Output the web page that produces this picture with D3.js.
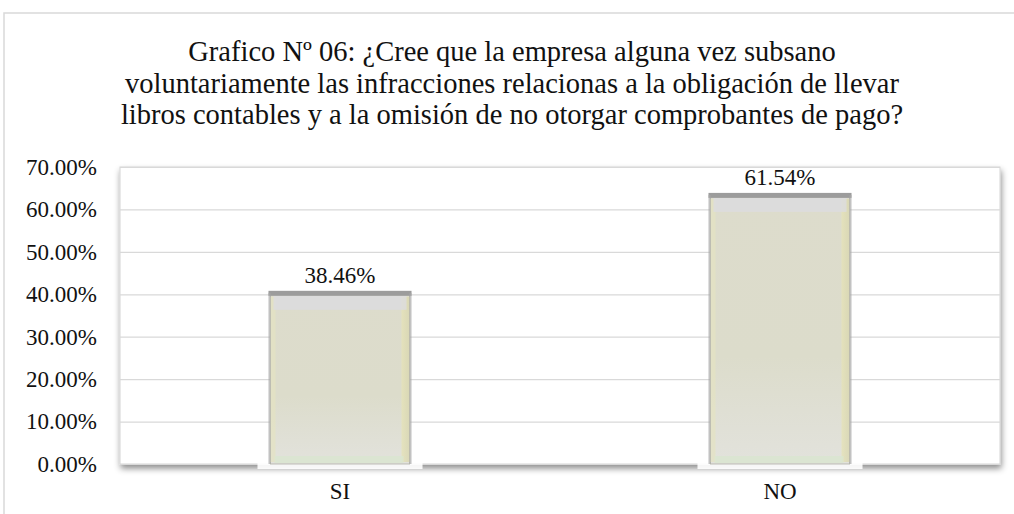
<!DOCTYPE html>
<html>
<head>
<meta charset="utf-8">
<script src="https://cdn.jsdelivr.net/npm/d3@7"></script>
<style>
  body { margin: 0; background: #fff; }
  svg { display: block; font-family: "Liberation Serif", "Times New Roman", serif; }
</style>
</head>
<body>
<svg id="chart" width="1014" height="514"></svg>
<script>
const categories = ["SI", "NO"];
const values = [38.46, 61.54];
const yTicks = [0, 10, 20, 30, 40, 50, 60, 70];
const titleLines = [
  "Grafico Nº 06: ¿Cree que la empresa alguna vez subsano",
  "voluntariamente las infracciones relacionas a la obligación de llevar",
  "libros contables y a la omisión de no otorgar comprobantes de pago?"
];

const serif = "Liberation Serif, Times New Roman, serif";
const svg = d3.select("#chart");
const plot = {left: 120, right: 1000, top: 167, bottom: 464};

// outer frame (only top/left visible)
svg.append("path")
  .attr("d", "M4,514 L4,13 L1014,13")
  .attr("fill", "none")
  .attr("stroke", "#d9d9d9")
  .attr("stroke-width", 1.5);

const defs = svg.append("defs");
defs.append("filter").attr("id", "shadow")
  .attr("x", "-5%").attr("y", "-5%").attr("width", "110%").attr("height", "115%")
  .append("feDropShadow")
  .attr("dx", 1).attr("dy", 4).attr("stdDeviation", 3)
  .attr("flood-color", "#000").attr("flood-opacity", 0.45);

const grad = defs.append("linearGradient").attr("id", "barFill")
  .attr("x1", 0).attr("x2", 0).attr("y1", 0).attr("y2", 1);
grad.append("stop").attr("offset", "0%").attr("stop-color", "#dddccc");
grad.append("stop").attr("offset", "60%").attr("stop-color", "#dcdccb");
grad.append("stop").attr("offset", "100%").attr("stop-color", "#e2e2dc");

const side = defs.append("linearGradient").attr("id", "sideFill")
  .attr("x1", 0).attr("x2", 1).attr("y1", 0).attr("y2", 0);
side.append("stop").attr("offset", "0%").attr("stop-color", "#e6e3b8");
side.append("stop").attr("offset", "100%").attr("stop-color", "#d8d6b0");

// title
svg.append("g").selectAll("text")
  .data(titleLines)
  .join("text")
  .attr("x", 512)
  .attr("y", (d, i) => 61 + i * 31.5)
  .attr("text-anchor", "middle")
  .attr("font-family", serif)
  .attr("font-size", 28.5)
  .attr("fill", "#111")
  .text(d => d);

const x = d3.scaleBand()
  .domain(categories)
  .range([plot.left, plot.right])
  .paddingInner(0.684)
  .paddingOuter(0.342);

const y = d3.scaleLinear()
  .domain([0, 70])
  .range([plot.bottom, plot.top]);

// plot area with shadow
svg.append("rect")
  .attr("x", plot.left).attr("y", plot.top)
  .attr("width", plot.right - plot.left).attr("height", plot.bottom - plot.top)
  .attr("fill", "#fff")
  .attr("stroke", "#d4d4d4")
  .attr("filter", "url(#shadow)");

// gridlines
svg.append("g")
  .attr("transform", `translate(${plot.left},0)`)
  .call(d3.axisLeft(y).tickValues(yTicks).tickSize(-(plot.right - plot.left)).tickFormat(""))
  .call(g => g.select(".domain").remove())
  .call(g => g.selectAll("line").attr("stroke", "#d9d9d9").attr("stroke-width", 1.2));

// y labels
svg.append("g")
  .attr("transform", `translate(${plot.left},0)`)
  .call(d3.axisLeft(y).tickValues(yTicks).tickSize(0).tickPadding(23)
    .tickFormat(d => d.toFixed(2) + "%"))
  .call(g => g.select(".domain").remove())
  .call(g => g.selectAll("text")
    .attr("font-family", serif)
    .attr("font-size", 23).attr("fill", "#111"));

// x labels
svg.append("g")
  .attr("transform", `translate(0,${plot.bottom})`)
  .call(d3.axisBottom(x).tickSize(0).tickPadding(19))
  .call(g => g.select(".domain").remove())
  .call(g => g.selectAll("text")
    .attr("font-family", serif)
    .attr("font-size", 23).attr("fill", "#111"));

const bars = svg.append("g").selectAll("g")
  .data(categories.map((c, i) => ({c, v: values[i]})))
  .join("g");

const cap = 8;
// white glow behind bar base
bars.append("rect")
  .attr("x", d => x(d.c) - 13)
  .attr("y", plot.bottom - 4)
  .attr("width", x.bandwidth() + 26)
  .attr("height", 9)
  .attr("fill", "#fff")
  .attr("opacity", 0.9);

bars.append("rect")
  .attr("x", d => x(d.c))
  .attr("y", d => y(d.v) - cap)
  .attr("width", x.bandwidth())
  .attr("height", d => y(0) - y(d.v) + cap)
  .attr("fill", "url(#barFill)")
  .attr("stroke", "#b8b8b0")
  .attr("stroke-width", 1);

// bevel edges
bars.append("rect")
  .attr("x", d => x(d.c) + x.bandwidth() - 8)
  .attr("y", d => y(d.v) - cap + 4)
  .attr("width", 8)
  .attr("height", d => y(0) - y(d.v) + cap - 6)
  .attr("fill", "url(#sideFill)")
  .attr("opacity", 0.8);
bars.append("rect")
  .attr("x", d => x(d.c))
  .attr("y", d => y(d.v) - cap + 4)
  .attr("width", 5)
  .attr("height", d => y(0) - y(d.v) + cap - 6)
  .attr("fill", "#e4e2c2")
  .attr("opacity", 0.7);
bars.append("rect")
  .attr("x", d => x(d.c) + 4)
  .attr("y", y(0) - 8)
  .attr("width", x.bandwidth() - 10)
  .attr("height", 7)
  .attr("fill", "#d9e6cf")
  .attr("opacity", 0.8);
bars.append("rect")
  .attr("x", d => x(d.c) + 3)
  .attr("y", d => y(d.v) - cap + 3)
  .attr("width", x.bandwidth() - 6)
  .attr("height", 14)
  .attr("fill", "#dcdce0")
  .attr("opacity", 0.8);
// top cap
bars.append("rect")
  .attr("x", d => x(d.c) - 2)
  .attr("y", d => y(d.v) - cap - 2)
  .attr("width", x.bandwidth() + 4)
  .attr("height", 5)
  .attr("fill", "#9c9c9c");
// side shades
bars.append("rect")
  .attr("x", d => x(d.c) - 2)
  .attr("y", d => y(d.v) - cap)
  .attr("width", 2)
  .attr("height", d => y(0) - y(d.v) + cap)
  .attr("fill", "#a8a8a8")
  .attr("opacity", 0.7);
bars.append("rect")
  .attr("x", d => x(d.c) + x.bandwidth())
  .attr("y", d => y(d.v) - cap)
  .attr("width", 2)
  .attr("height", d => y(0) - y(d.v) + cap)
  .attr("fill", "#a8a8a8")
  .attr("opacity", 0.7);

// value labels
bars.append("text")
  .attr("x", d => x(d.c) + x.bandwidth() / 2)
  .attr("y", d => y(d.v) - cap - 10)
  .attr("text-anchor", "middle")
  .attr("font-family", serif)
  .attr("font-size", 23)
  .attr("fill", "#111")
  .text(d => d.v.toFixed(2) + "%");
</script>
</body>
</html>
